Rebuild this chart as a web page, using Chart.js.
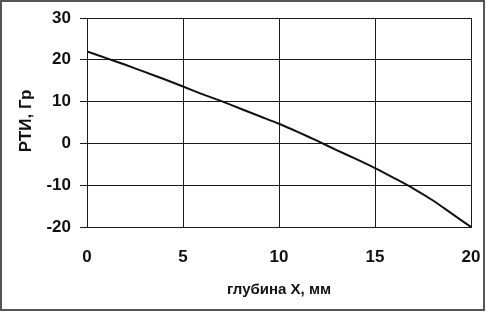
<!DOCTYPE html>
<html>
<head>
<meta charset="utf-8">
<script src="https://cdn.jsdelivr.net/npm/chart.js@4"></script>
<style>
  html, body { margin: 0; padding: 0; background: #fff; }
  #wrap { width: 486px; height: 312px; position: relative; }
</style>
</head>
<body>
<div id="wrap"><canvas id="c" width="486" height="312"></canvas></div>
<script>
// глубина X, мм
const depth = [0, 1, 2, 3, 4, 5, 6, 7, 8, 9, 10, 11, 12, 13, 14, 15, 16, 17, 18, 19, 20];
// РТИ, Гр
const rti = [22, 20.4, 18.8, 17.1, 15.4, 13.6, 11.8, 10.1, 8.3, 6.5, 4.7, 2.7, 0.6, -1.6, -3.7, -5.9, -8.3, -10.8, -13.6, -16.8, -20];

const xTicks = [0, 5, 10, 15, 20];
const yTicks = [-20, -10, 0, 10, 20, 30];

const xTitle = 'глубина X, мм';
const yTitle = 'РТИ, Гр';

const FONT = "'Liberation Sans', Arial, sans-serif";
const gridColor = '#1a1a1a';

// frame round the picture + axis titles
const decor = {
    id: 'decor',
    afterDraw(chart) {
        const ctx = chart.ctx;
        const area = chart.chartArea;
        ctx.save();
        ctx.strokeStyle = '#555';
        ctx.lineWidth = 2;
        ctx.strokeRect(1, 1, 483, 309);

        ctx.fillStyle = '#111';
        ctx.font = 'bold 15px ' + FONT;
        ctx.textAlign = 'center';
        ctx.textBaseline = 'middle';
        ctx.fillText(xTitle, (area.left + area.right) / 2, 290);

        ctx.translate(26, 121);
        ctx.rotate(-Math.PI / 2);
        ctx.font = 'bold 17px ' + FONT;
        ctx.fillText(yTitle, 0, 0);
        ctx.restore();
    }
};

new Chart(document.getElementById('c').getContext('2d'), {
    type: 'line',
    data: {
        datasets: [{
            data: depth.map((x, i) => ({ x: x, y: rti[i] })),
            borderColor: '#111',
            borderWidth: 2,
            pointRadius: 0,
            fill: false,
            tension: 0.3
        }]
    },
    options: {
        responsive: false,
        animation: false,
        layout: { padding: { left: 0, right: 15, top: 18, bottom: 0 } },
        plugins: { legend: { display: false }, tooltip: { enabled: false } },
        scales: {
            x: {
                type: 'linear',
                min: 0,
                max: 20,
                afterBuildTicks: s => { s.ticks = xTicks.map(v => ({ value: v })); },
                afterFit: s => { s.height = 85; s.paddingLeft = 0; s.paddingRight = 0; },
                grid: { color: gridColor, lineWidth: 1, drawTicks: false },
                border: { color: gridColor, width: 1 },
                ticks: {
                    padding: 20,
                    color: '#111',
                    font: { family: FONT, size: 17, weight: 'bold' },
                    maxRotation: 0
                }
            },
            y: {
                min: -20,
                max: 30,
                afterBuildTicks: s => { s.ticks = yTicks.map(v => ({ value: v })); },
                afterFit: s => { s.width = 87; s.paddingTop = 0; s.paddingBottom = 0; },
                grid: { color: gridColor, lineWidth: 1, tickLength: 7 },
                border: { color: gridColor, width: 1 },
                ticks: {
                    padding: 9,
                    color: '#111',
                    font: { family: FONT, size: 17, weight: 'bold' }
                }
            }
        }
    },
    plugins: [decor]
});
</script>
</body>
</html>
